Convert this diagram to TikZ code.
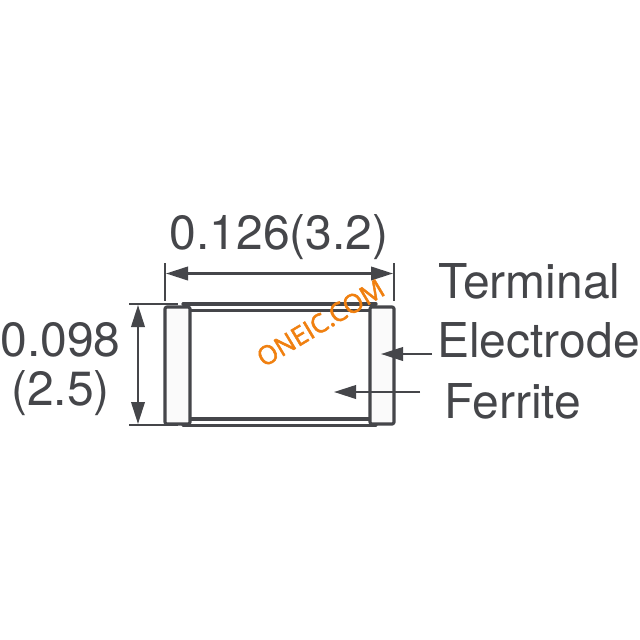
\documentclass[tikz,border=0pt]{standalone}
\usepackage{fontspec}
\setmainfont{TeX Gyre Heros}
\newfontfamily\wmfont{Open Sans}
\usetikzlibrary{arrows.meta}
\definecolor{ink}{HTML}{45464A}
\definecolor{wm}{HTML}{F08010}
\definecolor{fillgrey}{HTML}{FAFAFA}
\tikzset{
  lab/.style={text=ink,font=\fontsize{48}{50}\selectfont,inner sep=0pt,anchor=base},
  lab2/.style={text=ink,font=\fontsize{48}{50}\selectfont,inner sep=0pt,anchor=base west},
  body/.style={draw=ink,line width=3.2pt,line join=round},
  ext/.style={draw=ink,line width=1.6pt},
  dim/.style={draw=ink,line width=2.2pt,{Triangle[length=22pt,width=13.5pt]}-{Triangle[length=22pt,width=13.5pt]}},
  lead/.style={draw=ink,line width=2.2pt,-{Triangle[length=22pt,width=13.5pt]}}
}
\begin{document}
\begin{tikzpicture}[x=1pt,y=-1pt]
\useasboundingbox (0,0) rectangle (640,640);
\fill[white] (0,0) rectangle (640,640);
% terminals
\draw[body,fill=fillgrey,rounded corners=2pt] (165,307) rectangle (190,424);
\draw[body,fill=fillgrey,rounded corners=2pt] (370,307) rectangle (394,424);
% ferrite outline
\draw[body,line cap=round] (183,304) -- (376,304);
\draw[body,line cap=round] (183,425.5) -- (376,425.5);
\draw[body] (190,310.5) -- (370,310.5);
\draw[body] (190,419) -- (370,419);
% extension lines
\coordinate (wl) at (165,263);
\coordinate (wlb) at (165,301);
\coordinate (wr) at (394,263);
\coordinate (wrb) at (394,301);
\coordinate (hta) at (129,304);
\coordinate (htb) at (178,304);
\coordinate (hba) at (129,425);
\coordinate (hbb) at (178,425);
\draw[ext] (wl) -- (wlb);
\draw[ext] (wr) -- (wrb);
\draw[ext] (hta) -- (htb);
\draw[ext] (hba) -- (hbb);
% dimension arrows
\coordinate (dwl) at (166,273.5);
\coordinate (dwr) at (393,273.5);
\coordinate (dht) at (138,305);
\coordinate (dhb) at (138,424);
\draw[dim] (dwl) -- (dwr);
\draw[dim] (dht) -- (dhb);
% labels
\node[lab] (w) at (279,249) {0.126(3.2)};
\node[lab] (h1) at (60.5,356) {0.098};
\node[lab] (h2) at (60.5,405) {(2.5)};
\node[lab2] (t1) at (438,298) {Terminal};
\node[lab2] (t2) at (437,357) {Electrode};
\node[lab2] (fe) at (444,418) {Ferrite};
% leaders
\coordinate (ta) at (432,354);
\coordinate (tb) at (381,354);
\coordinate (fa) at (420,392);
\coordinate (fb) at (334,392);
\draw[lead] (ta) -- (tb);
\draw[lead] (fa) -- (fb);
% watermark
\node[text=wm,font=\wmfont\fontsize{26}{28}\selectfont,inner sep=0pt,rotate=31] (mark) at (320.5,323) {\special{pdf:literal 2 Tr 0.5 w}ONEIC.COM\special{pdf:literal 0 Tr}};
\end{tikzpicture}
\end{document}
